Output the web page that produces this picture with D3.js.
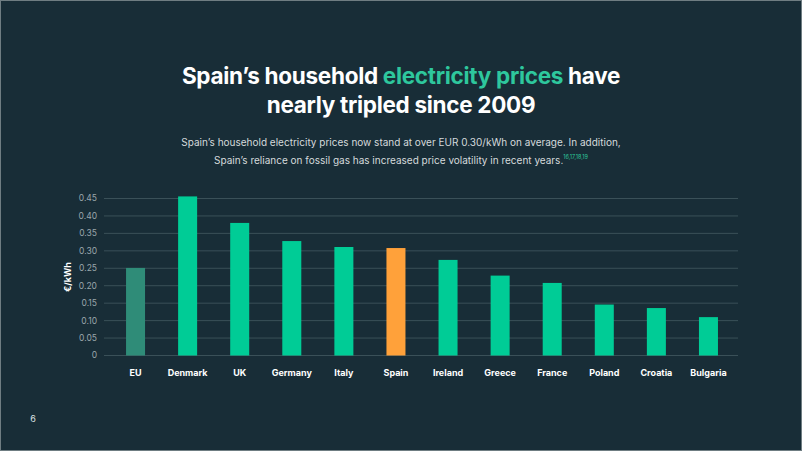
<!DOCTYPE html>
<html><head><meta charset="utf-8">
<script src="https://cdn.jsdelivr.net/npm/d3@7"></script>
<style>
html,body{margin:0;padding:0;background:#182d37;}
svg{display:block;}
</style></head>
<body>
<svg id="chart" width="802" height="451"></svg>
<script>
const categories = ["EU","Denmark","UK","Germany","Italy","Spain","Ireland","Greece","France","Poland","Croatia","Bulgaria"];
const values = [0.251,0.456,0.380,0.328,0.311,0.308,0.274,0.229,0.208,0.146,0.136,0.110];
const barColors = ["#2f8c78","#00cc96","#00cc96","#00cc96","#00cc96","#ffa13a","#00cc96","#00cc96","#00cc96","#00cc96","#00cc96","#00cc96"];
const yTicks = [0,0.05,0.10,0.15,0.20,0.25,0.30,0.35,0.40,0.45];
const yTickLabels = ["0","0.05","0.10","0.15","0.20","0.25","0.30","0.35","0.40","0.45"];

const svg = d3.select("#chart");
svg.append("rect").attr("x",0.5).attr("y",0.5).attr("width",801).attr("height",450)
  .attr("fill","#182d37").attr("stroke","#6f7d82").attr("stroke-width",1);

const font = "Inter, 'DejaVu Sans', sans-serif";

// Title
const title = svg.append("text").attr("text-anchor","middle").attr("font-family",font)
  .attr("font-weight",700).attr("font-size",22.5).attr("fill","#ffffff").attr("letter-spacing","-0.3");
const t1 = title.append("tspan").attr("x",401).attr("y",84);
t1.append("tspan").text("Spain\u2019s household ");
t1.append("tspan").attr("fill","#2ec79d").text("electricity prices");
t1.append("tspan").text(" have");
title.append("tspan").attr("x",401).attr("y",113).text("nearly tripled since 2009");

// Subtitle
const sub = svg.append("text").attr("text-anchor","middle").attr("font-family",font)
  .attr("font-size",10).attr("fill","#d5dadc");
sub.append("tspan").attr("x",401).attr("y",146).text("Spain\u2019s household electricity prices now stand at over EUR 0.30/kWh on average. In addition,");
const s2 = sub.append("tspan").attr("x",401).attr("y",164);
s2.append("tspan").text("Spain\u2019s reliance on fossil gas has increased price volatility in recent years.");
s2.append("tspan").attr("font-size",5.5).attr("dy",-5).attr("fill","#2ec79d").text("16,17,18,19");

// Scales
const y = d3.scaleLinear().domain([0,0.45]).range([355.5,198.5]);
const x = d3.scaleBand().domain(categories).range([109.5,734.5]).paddingInner(0.635).paddingOuter(0.3175);

// Grid
svg.append("g").selectAll("line").data(yTicks).join("line")
  .attr("x1",104).attr("x2",738)
  .attr("y1",d=>y(d)).attr("y2",d=>y(d))
  .attr("stroke","#3a5058").attr("stroke-width",1);

// Y labels
svg.append("g").selectAll("text").data(yTicks).join("text")
  .attr("x",97).attr("y",d=>y(d)).attr("dy","0.35em")
  .attr("text-anchor","end").attr("font-family",font).attr("font-size",8.5)
  .attr("fill","#9aa6ab").text((d,i)=>yTickLabels[i]);

// Y axis title
svg.append("text").attr("transform","translate(71,277) rotate(-90)")
  .attr("text-anchor","middle").attr("font-family",font).attr("font-weight",700)
  .attr("font-size",9).attr("fill","#ffffff").text("\u20ac/kWh");

// Bars
svg.append("g").selectAll("rect").data(categories).join("rect")
  .attr("x",d=>x(d)).attr("width",x.bandwidth())
  .attr("y",(d,i)=>y(values[i])).attr("height",(d,i)=>y(0)-y(values[i]))
  .attr("fill",(d,i)=>barColors[i]);

// X labels
svg.append("g").selectAll("text").data(categories).join("text")
  .attr("x",d=>x(d)+x.bandwidth()/2).attr("y",376)
  .attr("text-anchor","middle").attr("font-family",font).attr("font-weight",700)
  .attr("font-size",9).attr("fill","#ffffff").text(d=>d);

// Page number
svg.append("text").attr("x",33).attr("y",422).attr("text-anchor","middle")
  .attr("font-family",font).attr("font-size",9).attr("fill","#dfe4e6").text("6");
</script>
</body></html>
